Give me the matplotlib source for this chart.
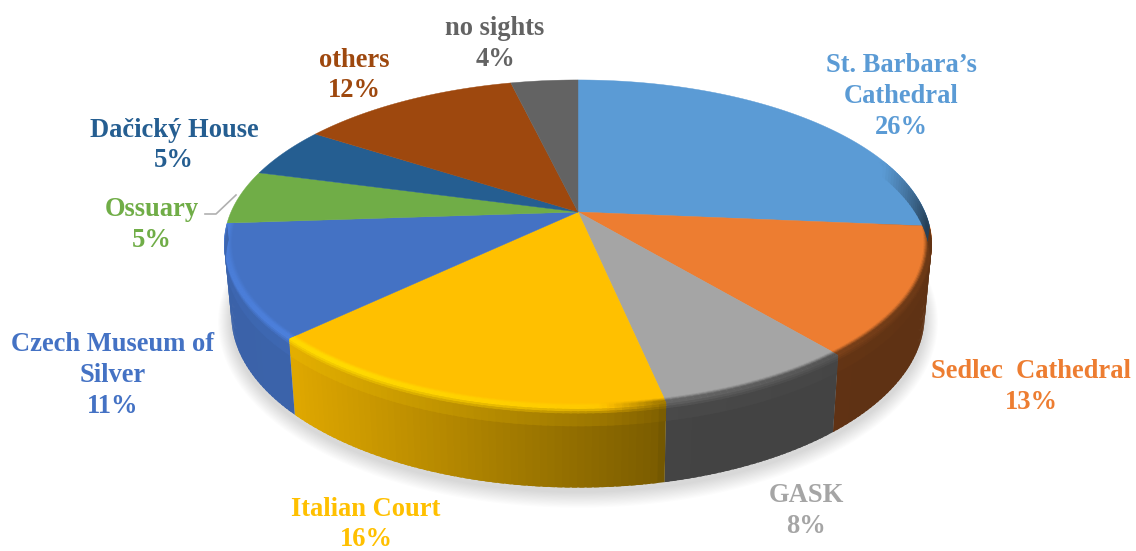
import numpy as np
import matplotlib
matplotlib.use("Agg")
import matplotlib.pyplot as plt
from matplotlib.colors import to_rgb
from matplotlib.patches import Polygon

# ---- data ----
categories = ["St. Barbara\u2019s\nCathedral", "Sedlec  Cathedral", "GASK", "Italian Court",
              "Czech Museum of\nSilver", "Ossuary", "Da\u010dick\u00fd House", "others", "no sights"]
values = [26, 13, 8, 16, 11, 5, 5, 12, 4]
# unrounded shares as read from the slice boundaries
shares = [26.4, 12.6, 7.7, 16.1, 11.1, 5.3, 5.0, 12.1, 3.7]
colors = ["#5B9BD5", "#ED7D31", "#A5A5A5", "#FFC000", "#4472C4",
          "#70AD47", "#255E91", "#9E480E", "#636363"]

# ---- layout (pixels) ----
label_x = [901, 1031, 806, 366, 113, 152, 174, 354, 495]
label_y = [96.5, 387, 511, 524.5, 375.5, 225, 145.5, 75.5, 44]
W, H = 1136, 551
CX, CY = 578.0, 212.0
R_TOP, K_TOP, C = 347.0, 157.8, 0.195
R_BOT, K_BOT, CY_BOT = 340.0, 165.5, 282.0
FRONT_START, FRONT_END = 70.0, 266.0


def project(theta, r=1.0, t=0.0):
    a = np.radians(theta)
    u, v = r * np.sin(a), r * np.cos(a)
    den = 1 + C * v
    xt, yt = CX + R_TOP * u / den, CY - K_TOP * v / den
    xb, yb = CX + R_BOT * u / den, CY_BOT - K_BOT * v / den
    return xt + (xb - xt) * t, yt + (yb - yt) * t


def wall_shade(x):
    return np.interp(x, [225, 295, 660, 668, 932], [0.86, 0.87, 0.48, 0.41, 0.40])


def bevel_gain(x):
    return np.interp(x, [225, 330, 600, 665, 932], [1.10, 1.14, 1.05, 0.62, 0.45])


fig = plt.figure(figsize=(W / 100, H / 100), dpi=100)
ax = fig.add_axes([0, 0, 1, 1])
ax.set_xlim(0, W)
ax.set_ylim(H, 0)
ax.axis("off")

edges = np.concatenate([[0], np.cumsum(shares)]) / np.sum(shares) * 360.0

# soft shadow
all_t = np.linspace(0, 360, 361)
for e in np.linspace(13, 1, 13):
    a = np.radians(all_t)
    den = 1 + C * np.cos(a)
    sx = CX + (R_BOT + e) * np.sin(a) / den
    sy = CY_BOT + 4 - (K_BOT + e) * np.cos(a) / den
    ax.fill(sx, sy, color="black", alpha=0.010, lw=0, zorder=1)

# rim profile: parameter s -> radius, depth, colour stage (0 top, 1 bevel, 2 wall)
prof_s = np.array([0.0, 0.5, 1.0, 1.45, 2.0])
prof_r = np.array([0.978, 0.990, 1.0, 1.0, 1.0])
prof_t = np.array([0.0, 0.0, 0.0, 0.10, 1.0])
prof_w = np.array([0.0, 1.0, 1.0, 2.0, 2.0])


def strip(th0, th1, s0, s1, zorder, col):
    r0, r1 = np.interp([s0, s1], prof_s, prof_r)
    t0, t1 = np.interp([s0, s1], prof_s, prof_t)
    th = np.array([th0, th1, th1, th0])
    rr = np.array([r0, r0, r1, r1])
    tt = np.array([t0, t0, t1, t1])
    xy = np.column_stack(project(th, rr, tt))
    ax.add_patch(Polygon(xy, closed=True, facecolor=col, edgecolor="none", lw=0, zorder=zorder))


def rim_colour(base, th, s):
    x, _ = project(th, 1.0, 0.0)
    fade = np.clip((th - FRONT_START) / 22.0, 0, 1)
    wall = base * wall_shade(x)
    bev = np.clip(base * bevel_gain(x), 0, 1)
    w = np.interp(s, prof_s, prof_w)
    c_ = base + (bev - base) * w if w <= 1 else bev + (wall - bev) * (w - 1)
    return base + (c_ - base) * fade


STEP = 1.0
# walls, painted with a small overlap so that no seams show
for i, col in enumerate(colors):
    base = np.array(to_rgb(col))
    lo, hi = max(edges[i], FRONT_START), min(edges[i + 1], FRONT_END)
    if hi <= lo:
        continue
    for a0 in np.arange(lo, hi, STEP):
        x0, _ = project(a0 + 0.5)
        wall_col = base * wall_shade(x0)
        strip(a0, min(a0 + 1.7 * STEP, hi), 1.40, 2.0, 2 + a0 * 1e-4, wall_col)

# top faces
for i, col in enumerate(colors):
    t_ = np.linspace(edges[i], edges[i + 1], 120)
    x, y = project(t_)
    ax.fill(np.r_[CX, x], np.r_[CY, y], facecolor=col, edgecolor=col, lw=0.3, zorder=3)

# bevel rows, inner to outer
rows = np.linspace(0, 1.45, 12)
ds = rows[1] - rows[0]
for i, col in enumerate(colors):
    base = np.array(to_rgb(col))
    lo, hi = max(edges[i], FRONT_START), min(edges[i + 1], FRONT_END)
    if hi <= lo:
        continue
    for k, s0 in enumerate(rows[:-1]):
        for a0 in np.arange(lo, hi, STEP):
            strip(a0, min(a0 + 1.7 * STEP, hi), s0, s0 + 1.6 * ds, 4 + k * 0.01 + a0 * 1e-6,
                  rim_colour(base, a0 + 0.5, s0 + ds / 2))

# leader line for Ossuary
ax.plot([205, 216, 236], [214, 214, 195], color="#B0B0B0", lw=1.2, zorder=5)

# labels
for name, val, col, lx, ly in zip(categories, values, colors, label_x, label_y):
    ax.text(lx, ly, f"{name}\n{val}%", color=col, ha="center", va="center", ma="center",
            family="Liberation Serif", fontweight="bold", fontsize=19.1,
            linespacing=1.3, zorder=6)

fig.savefig("out.png", dpi=100, facecolor="white")
